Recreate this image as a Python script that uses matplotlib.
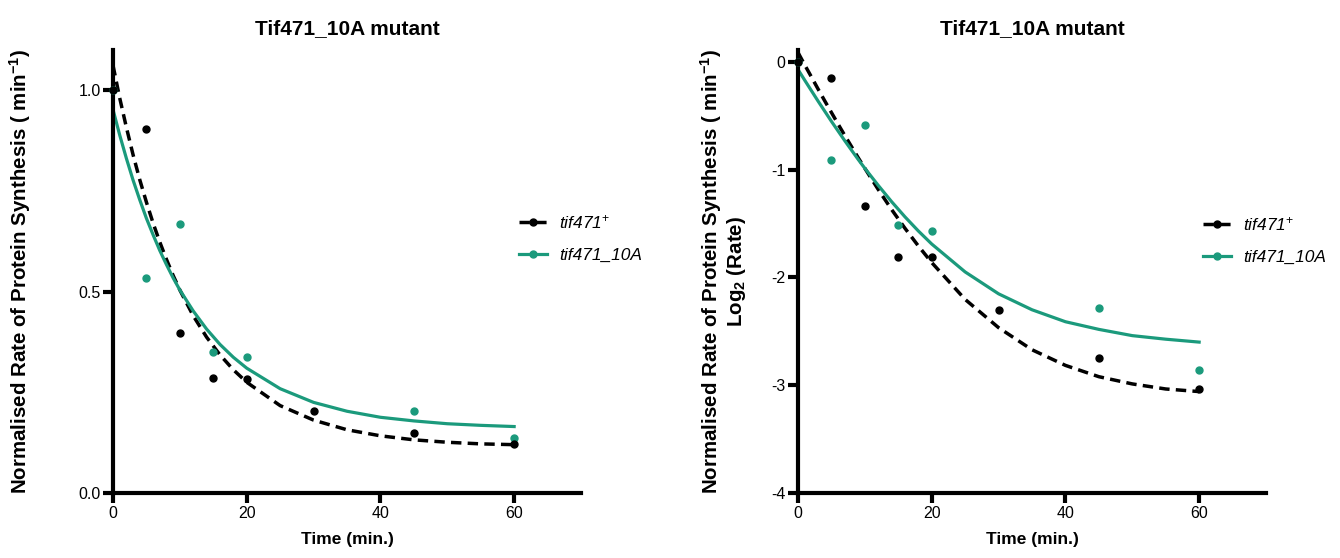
import numpy as np
import matplotlib
matplotlib.use("Agg")
import matplotlib.pyplot as plt
from matplotlib.lines import Line2D

plt.rcParams['font.family'] = ['Liberation Sans', 'DejaVu Sans']
plt.rcParams['mathtext.fontset'] = 'custom'
plt.rcParams['mathtext.rm'] = 'Liberation Sans'
plt.rcParams['mathtext.it'] = 'Liberation Sans:italic'
plt.rcParams['mathtext.bf'] = 'Liberation Sans:bold'
plt.rcParams['axes.unicode_minus'] = False

# measured points (min, normalised rate)
wt_t = [0, 5, 10, 15, 20, 30, 45, 60]
wt_rate = [1.0, 0.903, 0.397, 0.285, 0.283, 0.203, 0.149, 0.122]
wt_log2 = [0.0, -0.149, -1.334, -1.81, -1.81, -2.304, -2.749, -3.038]

mut_t = [0, 5, 10, 15, 20, 45, 60]
mut_rate = [1.0, 0.533, 0.668, 0.350, 0.337, 0.204, 0.137]
mut_log2 = [0.0, -0.914, -0.585, -1.515, -1.568, -2.285, -2.862]

# fitted curves
fit_t = [0, 1, 2, 3, 4, 5, 6, 7, 8, 9, 10, 12, 14, 16, 18, 20,
         25, 30, 35, 40, 45, 50, 55, 60]
wt_fit = [1.062, 0.981, 0.908, 0.840, 0.778, 0.722, 0.670, 0.623, 0.580, 0.540,
          0.504, 0.440, 0.387, 0.343, 0.306, 0.275,
          0.217, 0.181, 0.157, 0.142, 0.132, 0.126, 0.122, 0.120]
mut_fit = [0.952, 0.889, 0.831, 0.777, 0.728, 0.682, 0.641, 0.602, 0.567, 0.534,
           0.504, 0.452, 0.407, 0.369, 0.337, 0.310,
           0.259, 0.225, 0.203, 0.188, 0.179, 0.172, 0.168, 0.165]
wt_fit_log2 = [0.087, -0.028, -0.139, -0.252, -0.362, -0.470, -0.578, -0.683,
               -0.786, -0.889, -0.988, -1.184, -1.370, -1.544, -1.708, -1.862,
               -2.204, -2.466, -2.671, -2.816, -2.921, -2.988, -3.035, -3.059]
mut_fit_log2 = [-0.071, -0.170, -0.267, -0.364, -0.458, -0.552, -0.642, -0.732,
                -0.819, -0.905, -0.988, -1.146, -1.297, -1.438, -1.569, -1.690,
                -1.949, -2.152, -2.300, -2.411, -2.482, -2.540, -2.573, -2.600]

xticks = [0, 20, 40, 60]
teal = '#1b9a7c'
wt_label = r'tif471$^{+}$'
mut_label = 'tif471_10A'
ylab = r'Normalised Rate of Protein Synthesis ( min$^{\mathbf{-1}}$)'

fig = plt.figure(figsize=(13.4, 5.58), dpi=100)
ax1 = fig.add_axes([113/1340, 65/558, 468/1340, 443/558])
ax2 = fig.add_axes([798/1340, 65/558, 468/1340, 443/558])


def draw(ax, wt_y, mut_y, wt_f, mut_f):
    ax.plot(fit_t, wt_f, color='black', lw=2.5, dashes=(3, 1.8))
    ax.plot(fit_t, mut_f, color=teal, lw=2.3)
    ax.plot(mut_t, mut_y, 'o', color=teal, ms=5, clip_on=False, zorder=3)
    ax.plot(wt_t, wt_y, 'o', color='black', ms=5, clip_on=False, zorder=3)
    for s in ['top', 'right']:
        ax.spines[s].set_visible(False)
    for s in ['left', 'bottom']:
        ax.spines[s].set_linewidth(3)
    ax.tick_params(width=3, length=7, labelsize=11.5, pad=2)
    ax.set_xlim(0, 70)
    ax.set_xticks(xticks)
    ax.set_xlabel('Time (min.)', fontsize=12.5, fontweight='bold')
    ax.xaxis.set_label_coords(0.5, -0.088)
    ax.set_title('Tif471_10A mutant', fontsize=15, fontweight='bold', pad=0,
                 y=1.035)


draw(ax1, wt_rate, mut_rate, wt_fit, mut_fit)
ax1.set_ylim(0, 1.1)
ax1.set_yticks([0, 0.5, 1.0])
ax1.set_yticklabels(['0.0', '0.5', '1.0'])
ax1.set_ylabel(ylab, fontsize=14.8, fontweight='bold')
ax1.yaxis.set_label_coords(-0.171, 0.5)

draw(ax2, wt_log2, mut_log2, wt_fit_log2, mut_fit_log2)
ax2.set_ylim(-4, 0.11)
ax2.set_yticks([-4, -3, -2, -1, 0])
ax2.set_ylabel(ylab + '\n' + r'Log$_{\mathbf{2}}$ (Rate)', fontsize=14.8,
               fontweight='bold', linespacing=1.05)
ax2.yaxis.set_label_coords(-0.107, 0.5)

handles = [Line2D([], [], color='black', lw=2.5, dashes=(3, 1.8), marker='o', ms=5),
           Line2D([], [], color=teal, lw=2.3, marker='o', ms=5)]
for ax, pos in ((ax1, (0.8675, 0.632)), (ax2, (0.865, 0.627))):
    ax.legend(handles, [wt_label, mut_label], loc='upper left', bbox_to_anchor=pos,
              frameon=False, prop={'size': 12.5, 'style': 'italic'},
              handlelength=1.6, handletextpad=0.7, borderpad=0, borderaxespad=0,
              labelspacing=0.95, numpoints=1)

fig.savefig('out.png', dpi=100)
